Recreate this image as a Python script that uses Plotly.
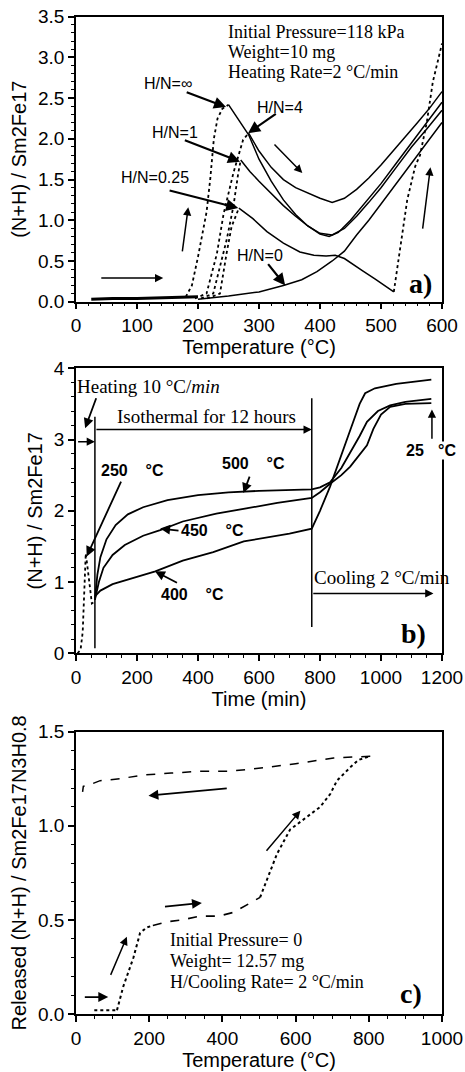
import plotly.graph_objects as go

# ---------------- Panel a: heating, 118 kPa ----------------
a_base_T = [25, 60, 100, 140, 180, 200]
a_base_v = [0.03, 0.04, 0.04, 0.05, 0.06, 0.06]

a_inf_rise_T = [180, 190, 200, 207, 214, 220, 226, 232, 240, 250]
a_inf_rise_v = [0.06, 0.2, 0.55, 0.85, 1.1, 1.5, 2.0, 2.25, 2.37, 2.42]
a_inf_T = [250, 265, 283, 300, 320, 340, 360, 380, 400, 415, 430, 450, 475, 500, 525, 550, 575, 600]
a_inf_v = [2.42, 2.25, 2.05, 1.75, 1.48, 1.25, 1.07, 0.93, 0.83, 0.8, 0.85, 1.0, 1.22, 1.45, 1.7, 1.95, 2.2, 2.45]

a_h4_rise_T = [195, 214, 231, 242, 258, 274, 283]
a_h4_rise_v = [0.04, 0.1, 0.59, 1.08, 1.58, 1.99, 2.07]
a_h4_T = [283, 300, 320, 340, 360, 380, 400, 420, 440, 460, 480, 500, 520, 540, 560, 580, 600]
a_h4_v = [2.07, 1.85, 1.65, 1.5, 1.4, 1.33, 1.27, 1.22, 1.27, 1.38, 1.52, 1.68, 1.85, 2.02, 2.2, 2.38, 2.58]

a_h1_rise_T = [205, 225, 247, 258, 266, 270]
a_h1_rise_v = [0.04, 0.1, 0.76, 1.17, 1.58, 1.74]
a_h1_T = [270, 285, 300, 320, 340, 360, 380, 400, 420, 440, 460, 480, 500, 525, 550, 575, 600]
a_h1_v = [1.74, 1.6, 1.48, 1.33, 1.18, 1.05, 0.93, 0.84, 0.82, 0.9, 1.05, 1.22, 1.4, 1.65, 1.9, 2.12, 2.35]

a_h025_rise_T = [215, 236, 247, 255, 267]
a_h025_rise_v = [0.04, 0.1, 0.6, 0.92, 1.15]
a_h025_T = [267, 290, 313, 340, 367, 390, 410, 425, 440, 455, 470, 490, 505, 521]
a_h025_v = [1.15, 1.02, 0.86, 0.72, 0.61, 0.57, 0.56, 0.57, 0.53, 0.45, 0.38, 0.28, 0.2, 0.12]
a_h025_end_T = [521, 530, 543, 556, 564, 575, 585, 600]
a_h025_end_v = [0.12, 0.6, 1.25, 1.66, 1.8, 2.2, 2.7, 3.17]

a_h0_T = [200, 250, 300, 340, 370, 395, 420, 440, 460, 480, 500, 520, 550, 575, 600]
a_h0_v = [0.03, 0.07, 0.12, 0.2, 0.27, 0.37, 0.5, 0.62, 0.82, 1.0, 1.2, 1.4, 1.7, 1.95, 2.2]

# ---------------- Panel b: isothermal ----------------
b_heat_t = [5, 15, 22, 27, 32, 38, 45, 52, 60]
b_heat_v = [0.0, 0.05, 0.3, 0.8, 1.4, 1.2, 0.9, 0.7, 0.72]

b_500_t = [62, 70, 80, 100, 130, 170, 220, 300, 400, 500, 600, 700, 773, 800, 833, 870, 899, 930, 954, 990, 1030, 1080, 1165]
b_500_v = [0.75, 1.1, 1.35, 1.6, 1.8, 1.95, 2.05, 2.15, 2.22, 2.26, 2.28, 2.29, 2.3, 2.33, 2.4, 2.6, 2.81, 3.05, 3.25, 3.4, 3.48, 3.53, 3.57]

b_450_t = [62, 75, 90, 120, 160, 220, 276, 350, 460, 560, 660, 773, 800, 833, 870, 899, 930, 954, 975, 1000, 1030, 1080, 1165]
b_450_v = [0.75, 1.0, 1.2, 1.38, 1.52, 1.65, 1.73, 1.85, 1.96, 2.04, 2.11, 2.18, 2.26, 2.38, 2.5, 2.62, 2.78, 2.92, 3.15, 3.35, 3.46, 3.5, 3.51]

b_400_t = [62, 80, 120, 180, 260, 350, 450, 550, 650, 700, 773, 800, 833, 870, 899, 930, 948, 980, 1050, 1165]
b_400_v = [0.8, 0.88, 0.97, 1.05, 1.15, 1.3, 1.42, 1.57, 1.65, 1.68, 1.75, 2.0, 2.34, 2.8, 3.13, 3.5, 3.65, 3.72, 3.78, 3.84]

# ---------------- Panel c: vacuum heating / cooling ----------------
c_flat_T = [50, 80, 112]
c_flat_v = [0.02, 0.02, 0.02]
c_rise1_T = [112, 129, 157, 175, 193, 210]
c_rise1_v = [0.02, 0.145, 0.3, 0.43, 0.46, 0.47]
c_plat_T = [210, 248, 290, 339, 390, 430, 476, 503]
c_plat_v = [0.47, 0.49, 0.5, 0.52, 0.52, 0.54, 0.59, 0.62]
c_rise2_T = [503, 521, 549, 585, 631, 667, 695, 713, 749, 772, 804]
c_rise2_v = [0.62, 0.71, 0.85, 0.98, 1.05, 1.1, 1.17, 1.24, 1.31, 1.35, 1.37]
c_cool_T = [804, 704, 600, 521, 420, 339, 260, 184, 120, 66, 40, 20, 18]
c_cool_v = [1.37, 1.36, 1.33, 1.31, 1.29, 1.29, 1.28, 1.27, 1.25, 1.24, 1.22, 1.21, 1.18]

BLACK = "black"
SANS = "Liberation Sans, Arial, sans-serif"
SERIF = "Liberation Serif, Times New Roman, serif"

fig = go.Figure()

def add(x, y, xa, ya, dash="solid", width=1.6):
    fig.add_trace(go.Scatter(x=x, y=y, mode="lines", xaxis=xa, yaxis=ya,
                             line=dict(color=BLACK, width=width, dash=dash),
                             showlegend=False, hoverinfo="skip"))

# panel a
add(a_base_T, a_base_v, "x", "y", width=3)
for rx, ry in [(a_inf_rise_T, a_inf_rise_v), (a_h4_rise_T, a_h4_rise_v),
               (a_h1_rise_T, a_h1_rise_v), (a_h025_rise_T, a_h025_rise_v),
               (a_h025_end_T, a_h025_end_v)]:
    add(rx, ry, "x", "y", dash="dot", width=1.8)
for mx, my in [(a_inf_T, a_inf_v), (a_h4_T, a_h4_v), (a_h1_T, a_h1_v),
               (a_h025_T, a_h025_v), (a_h0_T, a_h0_v)]:
    add(mx, my, "x", "y", dash="solid", width=1.5)

# panel b
add(b_heat_t, b_heat_v, "x2", "y2", dash="dot", width=1.8)
for mx, my in [(b_500_t, b_500_v), (b_450_t, b_450_v), (b_400_t, b_400_v)]:
    add(mx, my, "x2", "y2", width=1.8)

# panel c
add(c_flat_T, c_flat_v, "x3", "y3", dash="dot", width=1.8)
add(c_rise1_T, c_rise1_v, "x3", "y3", dash="dot", width=2)
add(c_plat_T, c_plat_v, "x3", "y3", dash="dash", width=1.6)
add(c_rise2_T, c_rise2_v, "x3", "y3", dash="dot", width=2)
add(c_cool_T, c_cool_v, "x3", "y3", dash="dash", width=1.5)

W, H = 465, 1072
xd = [76 / W, 442 / W]
def yd(top, bot):
    return [1 - bot / H, 1 - top / H]

tickfont = dict(family=SANS, size=19, color=BLACK)
titlefont = dict(family=SANS, size=20, color=BLACK)

def common(rng, dtick, mdt, anchor):
    return dict(range=rng, dtick=dtick, tick0=0, anchor=anchor, automargin=False,
                showline=True, mirror=True, linecolor=BLACK, linewidth=1.5,
                ticks="outside", ticklen=6, tickwidth=1.5, tickcolor=BLACK,
                minor=dict(dtick=mdt, ticks="outside", ticklen=3, tickwidth=1,
                           tickcolor=BLACK, showgrid=False),
                showgrid=False, zeroline=False, tickfont=tickfont)

def xax(rng, dtick, mdt, title, anchor):
    d = common(rng, dtick, mdt, anchor)
    d.update(domain=xd, title=dict(text=title, font=titlefont, standoff=2))
    return d

def yax(rng, dtick, mdt, title, anchor, dom, fmt):
    d = common(rng, dtick, mdt, anchor)
    d.update(domain=dom, tickformat=fmt, title=dict(text=title, font=titlefont, standoff=6))
    return d

fig.update_layout(
    template="none",
    width=W, height=H, margin=dict(l=0, r=0, t=0, b=0, autoexpand=False),
    paper_bgcolor="white", plot_bgcolor="white", showlegend=False,
    xaxis=xax([0, 600], 100, 20, "Temperature (°C)", "y"),
    yaxis=yax([0, 3.5], 0.5, 0.1, "(N+H) / Sm2Fe17", "x", yd(16.7, 301.7), ".1f"),
    xaxis2=xax([0, 1200], 200, 50, "Time (min)", "y2"),
    yaxis2=yax([0, 4], 1, 0.2, "(N+H) / Sm2Fe17", "x2", yd(368.3, 653.3), "d"),
    xaxis3=xax([0, 1000], 200, 50, "Temperature (°C)", "y3"),
    yaxis3=yax([0, 1.5], 0.5, 0.1, "Released (N+H) / Sm2Fe17N3H0.8", "x3", yd(731.7, 1014), ".1f"),
)

ann = []
def text(x, y, s, xr, yr, font, xanchor="center", bg=None):
    d = dict(x=x, y=y, text=s, xref=xr, yref=yr, showarrow=False, font=font,
             xanchor=xanchor, yanchor="middle")
    if bg:
        d["bgcolor"] = bg
        d["borderpad"] = 0
    ann.append(d)

def arrow(tx, ty, hx, hy, xr, yr, w=1.8, size=1.1):
    ann.append(dict(x=hx, y=hy, ax=tx, ay=ty, xref=xr, yref=yr, axref=xr, ayref=yr,
                    text="", showarrow=True, arrowhead=2, arrowsize=size, arrowwidth=w,
                    arrowcolor=BLACK, standoff=0, startstandoff=0))

serif19 = dict(family=SERIF, size=19, color=BLACK)
serif18 = dict(family=SERIF, size=18, color=BLACK)
sans16 = dict(family=SANS, size=16, color=BLACK)
sansb16 = dict(family=SANS, size=16, color=BLACK, weight="bold")
serifb = dict(family=SERIF, size=28, color=BLACK, weight="bold")

# panel a annotations
text(246, 3.31, "Initial Pressure=118 kPa", "x", "y", serif18, "left")
text(246, 3.065, "Weight=10 mg", "x", "y", serif18, "left")
text(246, 2.82, "Heating Rate=2 °C/min", "x", "y", serif18, "left")
text(151, 2.68, "H/N=∞", "x", "y", sans16)
text(335, 2.38, "H/N=4", "x", "y", sans16)
text(162, 2.08, "H/N=1", "x", "y", sans16)
text(130, 1.52, "H/N=0.25", "x", "y", sans16)
text(302, 0.57, "H/N=0", "x", "y", sans16)
text(564, 0.22, "a)", "x", "y", serifb)
arrow(179, 2.58, 246, 2.39, "x", "y", 2.2)
arrow(330, 2.32, 282, 2.07, "x", "y", 2.2)
arrow(176, 1.99, 269, 1.72, "x", "y", 2.2)
arrow(151, 1.37, 266, 1.15, "x", "y", 2.2)
arrow(313, 0.48, 343, 0.2, "x", "y", 2.2)
arrow(323, 1.95, 371, 1.58, "x", "y", 1.5)
arrow(174, 0.6, 184, 1.16, "x", "y", 1.5)
arrow(39, 0.29, 143, 0.29, "x", "y", 1.5)
arrow(568, 0.88, 581, 1.65, "x", "y", 1.5)

# panel b annotations
text(76 / W, 1 - 386.7 / H, "Heating 10 °C/<i>min</i>", "paper", "paper", serif19, "left", bg="white")
text(427, 3.32, "Isothermal for 12 hours", "x2", "y2", serif19)
text(184, 2.57, "250\u00a0\u00a0\u00a0\u00a0°C", "x2", "y2", sansb16)
text(581, 2.67, "500\u00a0\u00a0\u00a0\u00a0°C", "x2", "y2", sansb16)
text(446, 1.72, "450\u00a0\u00a0\u00a0\u00a0°C", "x2", "y2", sansb16)
text(381, 0.83, "400\u00a0\u00a0\u00a0\u00a0°C", "x2", "y2", sansb16)
text(774, 1.07, "Cooling 2 °C/min", "x2", "y2", serif19, "left")
text(1112, 2.85, "25", "x2", "y2", sansb16)
text(447 / W, 1 - 450 / H, "°C", "paper", "paper", sansb16, bg="white")
text(1106, 0.28, "b)", "x2", "y2", serifb)
arrow(68, 3.60, 30, 3.16, "x2", "y2", 1.8)
arrow(62, 3.14, 773, 3.14, "x2", "y2", 1.5)
arrow(2, 2.97, 62, 2.97, "x2", "y2", 1.5)
arrow(150, 2.43, 35, 1.36, "x2", "y2", 1.8)
arrow(571, 2.50, 549, 2.25, "x2", "y2", 1.8)
arrow(341, 1.72, 276, 1.75, "x2", "y2", 1.8)
arrow(336, 0.98, 259, 1.15, "x2", "y2", 1.8)
arrow(773, 0.84, 1172, 0.84, "x2", "y2", 1.5)
arrow(1167, 2.99, 1167, 3.42, "x2", "y2", 1.5)

# panel c annotations
text(252, 0.395, "Initial Pressure= 0", "x3", "y3", serif18, "left")
text(252, 0.283, "Weight= 12.57 mg", "x3", "y3", serif18, "left")
text(252, 0.171, "H/Cooling Rate= 2 °C/min", "x3", "y3", serif18, "left")
text(916, 0.11, "c)", "x3", "y3", serifb)
arrow(416, 1.20, 198, 1.16, "x3", "y3", 1.8)
arrow(239, 0.57, 344, 0.59, "x3", "y3", 1.8)
arrow(93, 0.20, 139, 0.41, "x3", "y3", 1.5)
arrow(20, 0.09, 88, 0.09, "x3", "y3", 1.8)
arrow(517, 0.86, 613, 1.08, "x3", "y3", 1.5)

fig.update_layout(annotations=ann)

# vertical marker lines in panel b
fig.add_shape(type="line", x0=62, x1=62, y0=0.07, y1=3.32, xref="x2", yref="y2",
              line=dict(color=BLACK, width=1.5))
fig.add_shape(type="line", x0=773, x1=773, y0=0.37, y1=3.58, xref="x2", yref="y2",
              line=dict(color=BLACK, width=1.5))

fig.write_html("out.html", config={"displayModeBar": False},
               post_script="document.body.style.margin='0px';document.body.style.overflow='hidden';")
